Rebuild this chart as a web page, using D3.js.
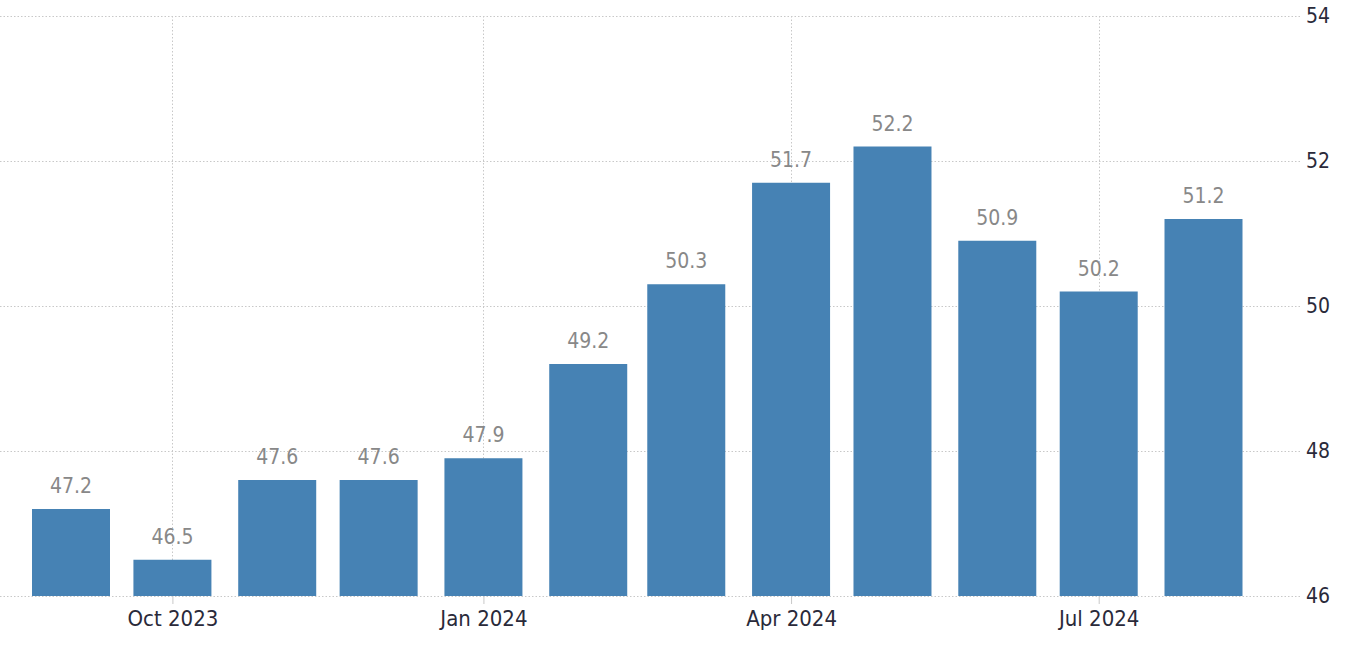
<!DOCTYPE html>
<html>
<head>
<meta charset="utf-8">
<script src="https://cdn.jsdelivr.net/npm/d3@7"></script>
<style>
  html, body { margin: 0; padding: 0; background: #fff; }
  svg { display: block; }
</style>
</head>
<body>
<svg id="chart" width="1360" height="645"></svg>
<script>
const months = ["2023-09","2023-10","2023-11","2023-12","2024-01","2024-02","2024-03","2024-04","2024-05","2024-06","2024-07","2024-08"];
const values = [47.2, 46.5, 47.6, 47.6, 47.9, 49.2, 50.3, 51.7, 52.2, 50.9, 50.2, 51.2];
const xTickMonths = ["2023-10","2024-01","2024-04","2024-07"];
const xTickLabels = ["Oct 2023","Jan 2024","Apr 2024","Jul 2024"];
const yTicks = [46, 48, 50, 52, 54];

const parse = d3.timeParse("%Y-%m");
const dates = months.map(parse);
const tickDates = xTickMonths.map(parse);

const svg = d3.select("#chart");
const plotLeft = 0, plotRight = 1300, plotTop = 16, plotBottom = 596;
const barWidth = 78;

const x = d3.scaleTime().domain([dates[0], dates[dates.length - 1]]).range([71, 1203.5]);
const y = d3.scaleLinear().domain([46, 54]).range([plotBottom, plotTop]);

const gridColor = "#c8c8c8";
const font = "'DejaVu Sans Condensed', 'DejaVu Sans', sans-serif";

// horizontal gridlines
svg.append("g").selectAll("line").data(yTicks).join("line")
  .attr("x1", plotLeft).attr("x2", plotRight)
  .attr("y1", d => Math.round(y(d)) + 0.5).attr("y2", d => Math.round(y(d)) + 0.5)
  .attr("stroke", gridColor).attr("stroke-width", 1).attr("stroke-dasharray", "1.5,2");

// vertical gridlines
svg.append("g").selectAll("line").data(tickDates).join("line")
  .attr("x1", d => Math.round(x(d)) + 0.5)
  .attr("x2", d => Math.round(x(d)) + 0.5)
  .attr("y1", plotTop).attr("y2", plotBottom)
  .attr("stroke", gridColor).attr("stroke-width", 1).attr("stroke-dasharray", "1.5,2");

// bars
svg.append("g").selectAll("rect").data(values).join("rect")
  .attr("x", (d, i) => x(dates[i]) - barWidth / 2)
  .attr("width", barWidth)
  .attr("y", d => y(d))
  .attr("height", d => plotBottom - y(d))
  .attr("fill", "#4682b4");

// value labels
svg.append("g").selectAll("text").data(values).join("text")
  .attr("x", (d, i) => x(dates[i]))
  .attr("y", d => y(d) - 16)
  .attr("text-anchor", "middle")
  .attr("font-family", font)
  .attr("font-size", 21)
  .attr("fill", "#888888")
  .text(d => d.toFixed(1));

// x axis ticks
const xAxis = d3.axisBottom(x).tickValues(tickDates)
  .tickFormat((d, i) => xTickLabels[i]).tickSize(8).tickSizeOuter(0).tickPadding(6);
const gx = svg.append("g").attr("transform", `translate(0,${plotBottom})`).call(xAxis);
gx.select(".domain").remove();
gx.selectAll(".tick line").attr("stroke", "#c8c8c8");
gx.selectAll(".tick text")
  .attr("font-family", font)
  .attr("font-size", 22).attr("fill", "#2a2a3a");

// y axis labels
const yAxis = d3.axisRight(y).tickValues(yTicks).tickSize(0).tickPadding(6);
const gy = svg.append("g").attr("transform", `translate(${plotRight},0)`).call(yAxis);
gy.select(".domain").remove();
gy.selectAll(".tick text")
  .attr("font-family", font)
  .attr("font-size", 21).attr("fill", "#2a2a3a");
</script>
</body>
</html>
